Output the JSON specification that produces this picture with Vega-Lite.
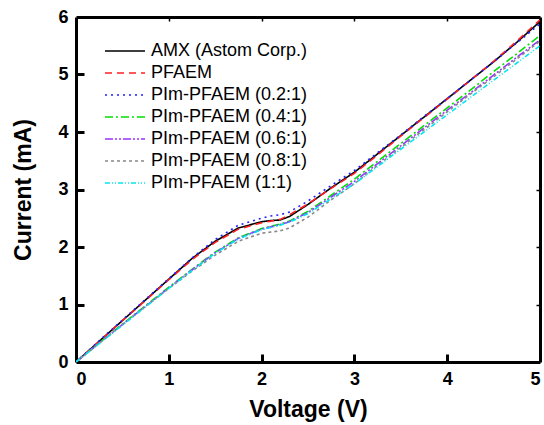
{
  "$schema": "https://vega.github.io/schema/vega-lite/v6.json",
  "autosize": "none",
  "width": 464,
  "height": 345,
  "padding": {"left": 76, "top": 17, "right": 4, "bottom": 63},
  "background": "white",
  "config": {
    "font": "Liberation Sans",
    "view": {"stroke": null},
    "axis": {"grid": false, "domainColor": "black", "domainWidth": 3, "labelFont": "Liberation Sans", "labelFontWeight": "bold", "labelFontSize": 18, "labelColor": "black", "tickColor": "black", "tickWidth": 3, "tickSize": 7, "titleFont": "Liberation Sans", "titleFontWeight": "bold", "titleFontSize": 23, "titleColor": "black"}
  },
  "datasets": {
    "iv": [
      {"s": "AMX (Astom Corp.)", "v": 0, "i": 0}, {"s": "AMX (Astom Corp.)", "v": 0.25, "i": 0.36}, {"s": "AMX (Astom Corp.)", "v": 0.5, "i": 0.72}, {"s": "AMX (Astom Corp.)", "v": 0.75, "i": 1.08}, {"s": "AMX (Astom Corp.)", "v": 1, "i": 1.44}, {"s": "AMX (Astom Corp.)", "v": 1.25, "i": 1.8}, {"s": "AMX (Astom Corp.)", "v": 1.5, "i": 2.1}, {"s": "AMX (Astom Corp.)", "v": 1.75, "i": 2.33}, {"s": "AMX (Astom Corp.)", "v": 2, "i": 2.44}, {"s": "AMX (Astom Corp.)", "v": 2.1, "i": 2.46}, {"s": "AMX (Astom Corp.)", "v": 2.2, "i": 2.47}, {"s": "AMX (Astom Corp.)", "v": 2.3, "i": 2.53}, {"s": "AMX (Astom Corp.)", "v": 2.5, "i": 2.74}, {"s": "AMX (Astom Corp.)", "v": 2.75, "i": 3.03}, {"s": "AMX (Astom Corp.)", "v": 3, "i": 3.3}, {"s": "AMX (Astom Corp.)", "v": 3.25, "i": 3.62}, {"s": "AMX (Astom Corp.)", "v": 3.5, "i": 3.94}, {"s": "AMX (Astom Corp.)", "v": 3.75, "i": 4.26}, {"s": "AMX (Astom Corp.)", "v": 4, "i": 4.58}, {"s": "AMX (Astom Corp.)", "v": 4.25, "i": 4.9}, {"s": "AMX (Astom Corp.)", "v": 4.5, "i": 5.22}, {"s": "AMX (Astom Corp.)", "v": 4.75, "i": 5.56}, {"s": "AMX (Astom Corp.)", "v": 5, "i": 5.92},

      {"s": "PFAEM", "v": 0, "i": 0}, {"s": "PFAEM", "v": 0.25, "i": 0.36}, {"s": "PFAEM", "v": 0.5, "i": 0.72}, {"s": "PFAEM", "v": 0.75, "i": 1.07}, {"s": "PFAEM", "v": 1, "i": 1.43}, {"s": "PFAEM", "v": 1.25, "i": 1.78}, {"s": "PFAEM", "v": 1.5, "i": 2.08}, {"s": "PFAEM", "v": 1.75, "i": 2.31}, {"s": "PFAEM", "v": 2, "i": 2.42}, {"s": "PFAEM", "v": 2.1, "i": 2.45}, {"s": "PFAEM", "v": 2.2, "i": 2.48}, {"s": "PFAEM", "v": 2.3, "i": 2.56}, {"s": "PFAEM", "v": 2.5, "i": 2.75}, {"s": "PFAEM", "v": 2.75, "i": 3.02}, {"s": "PFAEM", "v": 3, "i": 3.28}, {"s": "PFAEM", "v": 3.25, "i": 3.6}, {"s": "PFAEM", "v": 3.5, "i": 3.93}, {"s": "PFAEM", "v": 3.75, "i": 4.25}, {"s": "PFAEM", "v": 4, "i": 4.57}, {"s": "PFAEM", "v": 4.25, "i": 4.9}, {"s": "PFAEM", "v": 4.5, "i": 5.23}, {"s": "PFAEM", "v": 4.75, "i": 5.58}, {"s": "PFAEM", "v": 5, "i": 5.95},

      {"s": "PIm-PFAEM (0.2:1)", "v": 0, "i": 0}, {"s": "PIm-PFAEM (0.2:1)", "v": 0.25, "i": 0.37}, {"s": "PIm-PFAEM (0.2:1)", "v": 0.5, "i": 0.73}, {"s": "PIm-PFAEM (0.2:1)", "v": 0.75, "i": 1.09}, {"s": "PIm-PFAEM (0.2:1)", "v": 1, "i": 1.45}, {"s": "PIm-PFAEM (0.2:1)", "v": 1.25, "i": 1.81}, {"s": "PIm-PFAEM (0.2:1)", "v": 1.5, "i": 2.13}, {"s": "PIm-PFAEM (0.2:1)", "v": 1.75, "i": 2.38}, {"s": "PIm-PFAEM (0.2:1)", "v": 2, "i": 2.5}, {"s": "PIm-PFAEM (0.2:1)", "v": 2.1, "i": 2.54}, {"s": "PIm-PFAEM (0.2:1)", "v": 2.2, "i": 2.56}, {"s": "PIm-PFAEM (0.2:1)", "v": 2.3, "i": 2.61}, {"s": "PIm-PFAEM (0.2:1)", "v": 2.5, "i": 2.8}, {"s": "PIm-PFAEM (0.2:1)", "v": 2.75, "i": 3.07}, {"s": "PIm-PFAEM (0.2:1)", "v": 3, "i": 3.33}, {"s": "PIm-PFAEM (0.2:1)", "v": 3.25, "i": 3.64}, {"s": "PIm-PFAEM (0.2:1)", "v": 3.5, "i": 3.95}, {"s": "PIm-PFAEM (0.2:1)", "v": 3.75, "i": 4.27}, {"s": "PIm-PFAEM (0.2:1)", "v": 4, "i": 4.58}, {"s": "PIm-PFAEM (0.2:1)", "v": 4.25, "i": 4.9}, {"s": "PIm-PFAEM (0.2:1)", "v": 4.5, "i": 5.22}, {"s": "PIm-PFAEM (0.2:1)", "v": 4.75, "i": 5.55}, {"s": "PIm-PFAEM (0.2:1)", "v": 5, "i": 5.88},

      {"s": "PIm-PFAEM (0.4:1)", "v": 0, "i": 0}, {"s": "PIm-PFAEM (0.4:1)", "v": 0.25, "i": 0.33}, {"s": "PIm-PFAEM (0.4:1)", "v": 0.5, "i": 0.66}, {"s": "PIm-PFAEM (0.4:1)", "v": 0.75, "i": 0.98}, {"s": "PIm-PFAEM (0.4:1)", "v": 1, "i": 1.3}, {"s": "PIm-PFAEM (0.4:1)", "v": 1.25, "i": 1.61}, {"s": "PIm-PFAEM (0.4:1)", "v": 1.5, "i": 1.91}, {"s": "PIm-PFAEM (0.4:1)", "v": 1.75, "i": 2.16}, {"s": "PIm-PFAEM (0.4:1)", "v": 2, "i": 2.32}, {"s": "PIm-PFAEM (0.4:1)", "v": 2.1, "i": 2.36}, {"s": "PIm-PFAEM (0.4:1)", "v": 2.2, "i": 2.4}, {"s": "PIm-PFAEM (0.4:1)", "v": 2.3, "i": 2.45}, {"s": "PIm-PFAEM (0.4:1)", "v": 2.5, "i": 2.62}, {"s": "PIm-PFAEM (0.4:1)", "v": 2.75, "i": 2.9}, {"s": "PIm-PFAEM (0.4:1)", "v": 3, "i": 3.18}, {"s": "PIm-PFAEM (0.4:1)", "v": 3.25, "i": 3.49}, {"s": "PIm-PFAEM (0.4:1)", "v": 3.5, "i": 3.8}, {"s": "PIm-PFAEM (0.4:1)", "v": 3.75, "i": 4.11}, {"s": "PIm-PFAEM (0.4:1)", "v": 4, "i": 4.42}, {"s": "PIm-PFAEM (0.4:1)", "v": 4.25, "i": 4.73}, {"s": "PIm-PFAEM (0.4:1)", "v": 4.5, "i": 5.05}, {"s": "PIm-PFAEM (0.4:1)", "v": 4.75, "i": 5.36}, {"s": "PIm-PFAEM (0.4:1)", "v": 5, "i": 5.68},

      {"s": "PIm-PFAEM (0.6:1)", "v": 0, "i": 0}, {"s": "PIm-PFAEM (0.6:1)", "v": 0.25, "i": 0.33}, {"s": "PIm-PFAEM (0.6:1)", "v": 0.5, "i": 0.65}, {"s": "PIm-PFAEM (0.6:1)", "v": 0.75, "i": 0.97}, {"s": "PIm-PFAEM (0.6:1)", "v": 1, "i": 1.29}, {"s": "PIm-PFAEM (0.6:1)", "v": 1.25, "i": 1.6}, {"s": "PIm-PFAEM (0.6:1)", "v": 1.5, "i": 1.9}, {"s": "PIm-PFAEM (0.6:1)", "v": 1.75, "i": 2.15}, {"s": "PIm-PFAEM (0.6:1)", "v": 2, "i": 2.31}, {"s": "PIm-PFAEM (0.6:1)", "v": 2.1, "i": 2.35}, {"s": "PIm-PFAEM (0.6:1)", "v": 2.2, "i": 2.39}, {"s": "PIm-PFAEM (0.6:1)", "v": 2.3, "i": 2.44}, {"s": "PIm-PFAEM (0.6:1)", "v": 2.5, "i": 2.6}, {"s": "PIm-PFAEM (0.6:1)", "v": 2.75, "i": 2.87}, {"s": "PIm-PFAEM (0.6:1)", "v": 3, "i": 3.14}, {"s": "PIm-PFAEM (0.6:1)", "v": 3.25, "i": 3.45}, {"s": "PIm-PFAEM (0.6:1)", "v": 3.5, "i": 3.76}, {"s": "PIm-PFAEM (0.6:1)", "v": 3.75, "i": 4.07}, {"s": "PIm-PFAEM (0.6:1)", "v": 4, "i": 4.38}, {"s": "PIm-PFAEM (0.6:1)", "v": 4.25, "i": 4.68}, {"s": "PIm-PFAEM (0.6:1)", "v": 4.5, "i": 4.99}, {"s": "PIm-PFAEM (0.6:1)", "v": 4.75, "i": 5.3}, {"s": "PIm-PFAEM (0.6:1)", "v": 5, "i": 5.6},

      {"s": "PIm-PFAEM (0.8:1)", "v": 0, "i": 0}, {"s": "PIm-PFAEM (0.8:1)", "v": 0.25, "i": 0.33}, {"s": "PIm-PFAEM (0.8:1)", "v": 0.5, "i": 0.65}, {"s": "PIm-PFAEM (0.8:1)", "v": 0.75, "i": 0.97}, {"s": "PIm-PFAEM (0.8:1)", "v": 1, "i": 1.28}, {"s": "PIm-PFAEM (0.8:1)", "v": 1.25, "i": 1.58}, {"s": "PIm-PFAEM (0.8:1)", "v": 1.5, "i": 1.86}, {"s": "PIm-PFAEM (0.8:1)", "v": 1.75, "i": 2.1}, {"s": "PIm-PFAEM (0.8:1)", "v": 2, "i": 2.24}, {"s": "PIm-PFAEM (0.8:1)", "v": 2.1, "i": 2.26}, {"s": "PIm-PFAEM (0.8:1)", "v": 2.2, "i": 2.28}, {"s": "PIm-PFAEM (0.8:1)", "v": 2.3, "i": 2.33}, {"s": "PIm-PFAEM (0.8:1)", "v": 2.5, "i": 2.52}, {"s": "PIm-PFAEM (0.8:1)", "v": 2.75, "i": 2.82}, {"s": "PIm-PFAEM (0.8:1)", "v": 3, "i": 3.1}, {"s": "PIm-PFAEM (0.8:1)", "v": 3.25, "i": 3.42}, {"s": "PIm-PFAEM (0.8:1)", "v": 3.5, "i": 3.73}, {"s": "PIm-PFAEM (0.8:1)", "v": 3.75, "i": 4.04}, {"s": "PIm-PFAEM (0.8:1)", "v": 4, "i": 4.35}, {"s": "PIm-PFAEM (0.8:1)", "v": 4.25, "i": 4.66}, {"s": "PIm-PFAEM (0.8:1)", "v": 4.5, "i": 4.96}, {"s": "PIm-PFAEM (0.8:1)", "v": 4.75, "i": 5.27}, {"s": "PIm-PFAEM (0.8:1)", "v": 5, "i": 5.58},

      {"s": "PIm-PFAEM (1:1)", "v": 0, "i": 0}, {"s": "PIm-PFAEM (1:1)", "v": 0.25, "i": 0.32}, {"s": "PIm-PFAEM (1:1)", "v": 0.5, "i": 0.64}, {"s": "PIm-PFAEM (1:1)", "v": 0.75, "i": 0.96}, {"s": "PIm-PFAEM (1:1)", "v": 1, "i": 1.28}, {"s": "PIm-PFAEM (1:1)", "v": 1.25, "i": 1.59}, {"s": "PIm-PFAEM (1:1)", "v": 1.5, "i": 1.89}, {"s": "PIm-PFAEM (1:1)", "v": 1.75, "i": 2.14}, {"s": "PIm-PFAEM (1:1)", "v": 2, "i": 2.3}, {"s": "PIm-PFAEM (1:1)", "v": 2.1, "i": 2.34}, {"s": "PIm-PFAEM (1:1)", "v": 2.2, "i": 2.38}, {"s": "PIm-PFAEM (1:1)", "v": 2.3, "i": 2.43}, {"s": "PIm-PFAEM (1:1)", "v": 2.5, "i": 2.58}, {"s": "PIm-PFAEM (1:1)", "v": 2.75, "i": 2.84}, {"s": "PIm-PFAEM (1:1)", "v": 3, "i": 3.1}, {"s": "PIm-PFAEM (1:1)", "v": 3.25, "i": 3.4}, {"s": "PIm-PFAEM (1:1)", "v": 3.5, "i": 3.7}, {"s": "PIm-PFAEM (1:1)", "v": 3.75, "i": 4.0}, {"s": "PIm-PFAEM (1:1)", "v": 4, "i": 4.3}, {"s": "PIm-PFAEM (1:1)", "v": 4.25, "i": 4.6}, {"s": "PIm-PFAEM (1:1)", "v": 4.5, "i": 4.9}, {"s": "PIm-PFAEM (1:1)", "v": 4.75, "i": 5.2}, {"s": "PIm-PFAEM (1:1)", "v": 5, "i": 5.5}
    ]
  },
  "data": {"name": "iv"},
  "layer": [
    {
      "mark": {"type": "line", "strokeWidth": 1.6, "clip": true},
      "encoding": {
        "x": {"field": "v", "type": "quantitative", "scale": {"domain": [0, 5], "nice": false}, "axis": {"orient": "bottom", "title": "Voltage (V)", "values": [0, 1, 2, 3, 4, 5], "ticks": false, "domain": true, "labelPadding": 8, "titlePadding": 10}},
        "y": {"field": "i", "type": "quantitative", "scale": {"domain": [0, 6], "nice": false}, "axis": {"orient": "left", "title": "Current (mA)", "values": [0, 1, 2, 3, 4, 5, 6], "ticks": false, "domain": true, "labelPadding": 8, "titlePadding": 22}},
        "order": {"field": "v", "type": "quantitative"},
        "color": {
          "field": "s", "type": "nominal",
          "scale": {
            "domain": ["AMX (Astom Corp.)", "PFAEM", "PIm-PFAEM (0.2:1)", "PIm-PFAEM (0.4:1)", "PIm-PFAEM (0.6:1)", "PIm-PFAEM (0.8:1)", "PIm-PFAEM (1:1)"],
            "range": ["#000000", "#ff2020", "#2020ff", "#00e000", "#9933ff", "#888888", "#00e8f0"]
          },
          "legend": {
            "orient": "none", "legendX": 28, "legendY": 23, "title": null,
            "symbolType": "M-1,0H3", "symbolSize": 400, "symbolStrokeWidth": 1.6,
            "labelFont": "Liberation Sans", "labelFontSize": 18, "labelColor": "black",
            "labelOffset": 25, "rowPadding": 2
          }
        },
        "strokeDash": {
          "field": "s", "type": "nominal",
          "scale": {
            "domain": ["AMX (Astom Corp.)", "PFAEM", "PIm-PFAEM (0.2:1)", "PIm-PFAEM (0.4:1)", "PIm-PFAEM (0.6:1)", "PIm-PFAEM (0.8:1)", "PIm-PFAEM (1:1)"],
            "range": [[1, 0], [7, 5], [2, 4], [8, 3, 2, 3], [8, 2, 2, 2, 2, 2], [3, 3], [5, 2, 1, 2, 1, 2]]
          },
          "legend": null
        }
      }
    },
    {
      "mark": {"type": "point", "opacity": 0},
      "encoding": {
        "x": {"field": "v", "type": "quantitative", "axis": {"orient": "top", "offset": -345, "title": null, "labels": false, "domain": false, "ticks": true, "values": [1, 2, 3, 4], "tickSize": 8, "tickWidth": 3, "tickColor": "black"}},
        "y": {"field": "i", "type": "quantitative", "axis": {"orient": "right", "offset": -464, "title": null, "labels": false, "domain": false, "ticks": true, "values": [1, 2, 3, 4, 5], "tickSize": 8, "tickWidth": 3, "tickColor": "black"}}
      }
    },
    {
      "mark": {"type": "point", "opacity": 0},
      "encoding": {
        "x": {"field": "v", "type": "quantitative", "axis": {"orient": "bottom", "offset": -345, "title": null, "labels": false, "domain": true, "ticks": true, "values": [1, 2, 3, 4], "tickSize": 4, "tickWidth": 1.5, "tickColor": "black"}},
        "y": {"field": "i", "type": "quantitative", "axis": {"orient": "left", "offset": -464, "title": null, "labels": false, "domain": true, "ticks": true, "values": [1, 2, 3, 4, 5], "tickSize": 4, "tickWidth": 1.5, "tickColor": "black"}}
      }
    }
  ],
  "resolve": {"axis": {"x": "independent", "y": "independent"}}
}
